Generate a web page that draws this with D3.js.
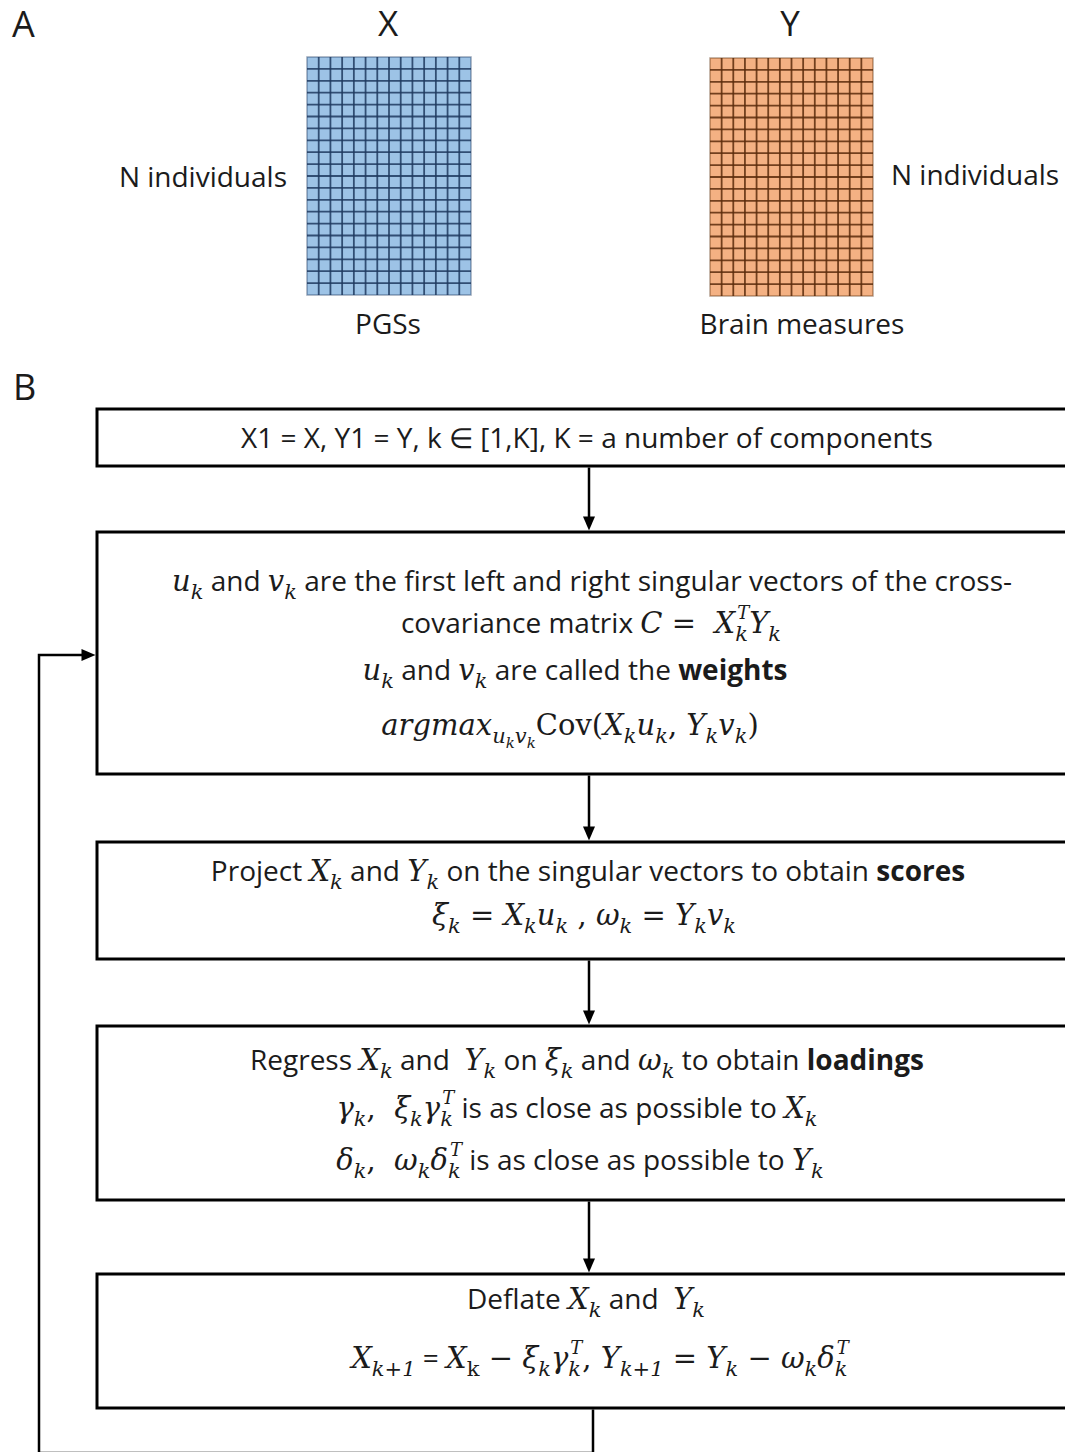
<!DOCTYPE html>
<html>
<head>
<meta charset="utf-8">
<script src="https://cdn.jsdelivr.net/npm/d3@7"></script>
<style>
body { margin: 0; background: #fff; }
text { white-space: pre; }
</style>
</head>
<body>
<script>
// panel A: the two data matrices
var matrixTitles = ["X", "Y"],
    matrixRowLabels = ["N individuals", "N individuals"],
    matrixColLabels = ["PGSs", "Brain measures"],
    matrixFills = ["#9dc3e6", "#f4b183"],
    matrixLines = ["#1f3a5f", "#5b2c0c"],
    gridCols = 14,
    gridRows = 20;

// panel B: text of each step, one array of lines per box
// pieces: n = text, b = bold text, m = math italic, r = math upright,
// s = subscript, ss = sub-subscript, st = subscript with stacked superscript
var step1 = [
    [["n", "X1 = X, Y1 = Y, k \u2208 [1,K], K = a number of components"]]
];
var step2 = [
    [["m", "u"], ["s", "k"], ["n", " and "], ["m", "v"], ["s", "k"],
     ["n", " are the first left and right singular vectors of the cross-"]],
    [["n", "covariance matrix "], ["m", "C"], ["r", " =  "], ["m", "X"], ["st", "k", "T"], ["m", "Y"], ["s", "k"]],
    [["m", "u"], ["s", "k"], ["n", " and "], ["m", "v"], ["s", "k"], ["n", " are called the "], ["b", "weights"]],
    [["m", "argmax"], ["s", "u"], ["ss", "k"], ["s", "v"], ["ss", "k"], ["r", "Cov("], ["m", "X"], ["s", "k"],
     ["m", "u"], ["s", "k"], ["r", ", "], ["m", "Y"], ["s", "k"], ["m", "v"], ["s", "k"], ["r", ")"]]
];
var step3 = [
    [["n", "Project "], ["m", "X"], ["s", "k"], ["n", " and "], ["m", "Y"], ["s", "k"],
     ["n", " on the singular vectors to obtain "], ["b", "scores"]],
    [["m", "\u03be"], ["s", "k"], ["r", " = "], ["m", "X"], ["s", "k"], ["m", "u"], ["s", "k"], ["r", " , "],
     ["m", "\u03c9"], ["s", "k"], ["r", " = "], ["m", "Y"], ["s", "k"], ["m", "v"], ["s", "k"]]
];
var step4 = [
    [["n", "Regress "], ["m", "X"], ["s", "k"], ["n", " and  "], ["m", "Y"], ["s", "k"], ["n", " on "],
     ["m", "\u03be"], ["s", "k"], ["n", " and "], ["m", "\u03c9"], ["s", "k"], ["n", " to obtain "], ["b", "loadings"]],
    [["m", "\u03b3"], ["s", "k"], ["r", ",  "], ["m", "\u03be"], ["s", "k"], ["m", "\u03b3"], ["st", "k", "T"],
     ["n", " is as close as possible to "], ["m", "X"], ["s", "k"]],
    [["m", "\u03b4"], ["s", "k"], ["r", ",  "], ["m", "\u03c9"], ["s", "k"], ["m", "\u03b4"], ["st", "k", "T"],
     ["n", " is as close as possible to "], ["m", "Y"], ["s", "k"]]
];
var step5 = [
    [["n", "Deflate "], ["m", "X"], ["s", "k"], ["n", " and  "], ["m", "Y"], ["s", "k"]],
    [["m", "X"], ["s", "k+1"], ["n", " = "], ["m", "X"], ["sr", "k"], ["r", " \u2212 "], ["m", "\u03be"], ["s", "k"],
     ["m", "\u03b3"], ["st", "k", "T"], ["r", ", "], ["m", "Y"], ["s", "k+1"], ["r", " = "], ["m", "Y"], ["s", "k"],
     ["r", " \u2212 "], ["m", "\u03c9"], ["s", "k"], ["m", "\u03b4"], ["st", "k", "T"]]
];
var steps = [step1, step2, step3, step4, step5];

// layout
var W = 1065, H = 1452;
var ink = "#1b1b1b";
var sans = "'Open Sans', 'Noto Sans', sans-serif",
    serif = "'DejaVu Serif', 'Liberation Serif', serif";

var svg = d3.select("body").append("svg")
    .attr("width", W)
    .attr("height", H);

// panel labels
svg.append("text").attr("x", 12).attr("y", 37).text("A")
    .style("font-family", sans).style("font-size", "36px").attr("fill", ink);
svg.append("text").attr("x", 13).attr("y", 400).text("B")
    .style("font-family", sans).style("font-size", "36px").attr("fill", ink);

// matrices
var matBoxes = [
    {x0: 307, x1: 471, y0: 57, y1: 295, titleX: 388, rowX: 287, rowAnchor: "end", rowY: 187, colX: 388},
    {x0: 710, x1: 873, y0: 58, y1: 296, titleX: 790, rowX: 891, rowAnchor: "start", rowY: 185, colX: 802}
];

matBoxes.forEach(function(b, i) {
    var g = svg.append("g");
    var xs = d3.scaleLinear().domain([0, gridCols]).range([b.x0, b.x1]);
    var ys = d3.scaleLinear().domain([0, gridRows]).range([b.y0, b.y1]);

    g.append("rect")
        .attr("x", b.x0).attr("y", b.y0)
        .attr("width", b.x1 - b.x0).attr("height", b.y1 - b.y0)
        .attr("fill", matrixFills[i]);

    g.selectAll(".vline")
        .data(d3.range(1, gridCols))
        .enter().append("line")
        .attr("x1", function(d) { return xs(d); })
        .attr("x2", function(d) { return xs(d); })
        .attr("y1", b.y0).attr("y2", b.y1)
        .attr("stroke", matrixLines[i]).attr("stroke-width", 1.8).attr("stroke-opacity", 0.85);

    g.selectAll(".hline")
        .data(d3.range(1, gridRows))
        .enter().append("line")
        .attr("y1", function(d) { return ys(d); })
        .attr("y2", function(d) { return ys(d); })
        .attr("x1", b.x0).attr("x2", b.x1)
        .attr("stroke", matrixLines[i]).attr("stroke-width", 1.8).attr("stroke-opacity", 0.85);

    g.append("rect")
        .attr("x", b.x0).attr("y", b.y0)
        .attr("width", b.x1 - b.x0).attr("height", b.y1 - b.y0)
        .attr("fill", "none")
        .attr("stroke", matrixLines[i]).attr("stroke-opacity", 0.45).attr("stroke-width", 1.5);

    svg.append("text").attr("x", b.titleX).attr("y", 36)
        .attr("text-anchor", "middle").text(matrixTitles[i])
        .style("font-family", sans).style("font-size", "35px").attr("fill", ink);
    svg.append("text").attr("x", b.rowX).attr("y", b.rowY)
        .attr("text-anchor", b.rowAnchor).text(matrixRowLabels[i])
        .style("font-family", sans).style("font-size", "28px").attr("fill", ink);
    svg.append("text").attr("x", b.colX).attr("y", 334)
        .attr("text-anchor", "middle").text(matrixColLabels[i])
        .style("font-family", sans).style("font-size", "28px").attr("fill", ink);
});

// flowchart boxes
var boxLeft = 97, boxRight = 1090, arrowX = 589;
var boxTops = [409, 532, 842, 1026, 1274],
    boxBottoms = [466, 774, 959, 1200, 1408];
// baseline and centre of each text line, per box
var lineBase = [[448], [591, 633, 680, 735], [881, 925], [1070, 1118, 1170], [1309, 1368]],
    lineMid = [[587], [592, 591, 575, 570], [588, 584], [587, 577, 580], [586, 600]];

var pieceStyle = {
    n:  {font: sans,  size: 28, style: "normal", weight: 400, dy: 0},
    b:  {font: sans,  size: 28, style: "normal", weight: 700, dy: 0},
    m:  {font: serif, size: 29, style: "italic", weight: 400, dy: 0},
    r:  {font: serif, size: 29, style: "normal", weight: 400, dy: 0},
    s:  {font: serif, size: 21, style: "italic", weight: 400, dy: 8},
    sr: {font: serif, size: 21, style: "normal", weight: 400, dy: 8},
    ss: {font: serif, size: 15, style: "italic", weight: 400, dy: 13},
    t:  {font: serif, size: 18, style: "italic", weight: 400, dy: -14}
};

function addPiece(g, kind, str, x, y) {
    var st = pieceStyle[kind];
    var t = g.append("text")
        .attr("x", x).attr("y", y + st.dy)
        .style("font-family", st.font)
        .style("font-size", st.size + "px")
        .style("font-style", st.style)
        .style("font-weight", st.weight)
        .attr("fill", ink)
        .text(str);
    return t.node().getComputedTextLength();
}

function drawLine(pieces, cx, y) {
    var g = svg.append("g");
    var x = 0;
    pieces.forEach(function(p) {
        if (p[0] == "st") {
            var w1 = addPiece(g, "s", p[1], x, y);
            var w2 = addPiece(g, "t", p[2], x + 2, y);
            x += Math.max(w1, w2 + 2);
        } else {
            x += addPiece(g, p[0], p[1], x, y);
        }
    });
    g.attr("transform", "translate(" + (cx - x / 2) + ",0)");
}

steps.forEach(function(lines, i) {
    svg.append("rect")
        .attr("x", boxLeft).attr("y", boxTops[i])
        .attr("width", boxRight - boxLeft).attr("height", boxBottoms[i] - boxTops[i])
        .attr("fill", "#fff").attr("stroke", "#000").attr("stroke-width", 3);
    lines.forEach(function(pieces, j) {
        drawLine(pieces, lineMid[i][j], lineBase[i][j]);
    });
});

// arrows between boxes
function arrowHead(x, y, dir) {
    // dir "down" or "right", tip at (x, y)
    var p = dir == "down"
        ? [[x, y], [x - 6, y - 14], [x + 6, y - 14]]
        : [[x, y], [x - 14, y - 6], [x - 14, y + 6]];
    svg.append("path").attr("d", d3.line()(p) + "Z").attr("fill", "#000");
}

for (var i = 0; i < boxTops.length - 1; ++i) {
    svg.append("line")
        .attr("x1", arrowX).attr("x2", arrowX)
        .attr("y1", boxBottoms[i] + 1.5).attr("y2", boxTops[i + 1] - 10)
        .attr("stroke", "#000").attr("stroke-width", 2.5);
    arrowHead(arrowX, boxTops[i + 1] - 1.5, "down");
}

// loop back from the last box to the second
svg.append("path")
    .attr("d", d3.line()([[593, boxBottoms[4] + 1.5], [593, H + 1], [39, H + 1], [39, 655], [boxLeft - 10, 655]]))
    .attr("fill", "none").attr("stroke", "#000").attr("stroke-width", 2.5);
arrowHead(boxLeft - 1.5, 655, "right");
</script>
</body>
</html>
